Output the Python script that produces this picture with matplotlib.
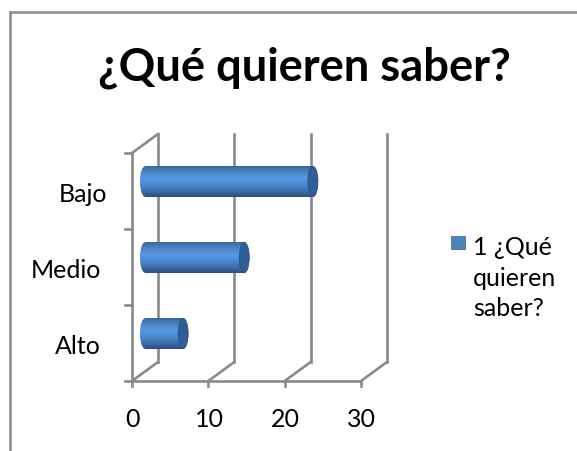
import numpy as np
import matplotlib.pyplot as plt
from matplotlib.patches import Ellipse, Rectangle

categories = ["Alto", "Medio", "Bajo"]
values = [5, 13, 22]
xticks = [0, 10, 20, 30]
legend_label = "1 ¿Qué\nquieren\nsaber?"
title = "¿Qué quieren saber?"

W, H = 577, 451
plt.rcParams["font.family"] = ["Lato", "DejaVu Sans"]

fig = plt.figure(figsize=(W / 100, H / 100), dpi=100)

# chart border, only top and left are inside the crop
border = "#8c8c8c"
fig.add_artist(plt.Line2D([9.5 / W, 9.5 / W], [0, 1 - 12 / H], color=border, lw=1.8, transform=fig.transFigure))
fig.add_artist(plt.Line2D([9.5 / W, 1], [1 - 12 / H, 1 - 12 / H], color=border, lw=1.8, transform=fig.transFigure))

# axes box runs from the front corner (132, 381) to the back corner (388, 133)
x0, x30, y0, y3 = 132, 361, 381, 153
xscale = (x30 - x0) / 30
yscale = (y0 - y3) / 3
depth_x = 26 / xscale
depth_y = 19 / yscale
xmax = 30 + depth_x
ymax = 3 + depth_y
ax = fig.add_axes([x0 / W, 1 - y0 / H, (x30 + 26 - x0) / W, (y0 - y3 + 19) / H])
ax.set_xlim(0, xmax)
ax.set_ylim(0, ymax)
ax.axis("off")

grid = "#8a8a8a"
lw = 1.9
# back wall and floor
for t in xticks:
    ax.plot([t + depth_x, t + depth_x], [depth_y, ymax], color=grid, lw=lw, clip_on=False, zorder=1)
    ax.plot([t, t + depth_x], [0, depth_y], color=grid, lw=lw, clip_on=False, zorder=1)
    ax.plot([t, t], [0, -0.07], color=grid, lw=lw, clip_on=False, zorder=1)
    ax.text(t + 0.1, -0.51, str(t), ha="center", va="center", fontsize=18, color="black")
ax.plot([0, 0], [0, 3], color=grid, lw=lw, clip_on=False, zorder=1)
ax.plot([0, 30], [0, 0], color=grid, lw=lw, clip_on=False, zorder=1)
ax.plot([0, depth_x], [3, ymax], color=grid, lw=lw, clip_on=False, zorder=1)
for i in range(4):
    ax.plot([-0.9, 0], [i, i], color=grid, lw=lw, clip_on=False, zorder=1)
label_x = [-4.1, -4.1, -3.2]
for i, c in enumerate(categories):
    ax.text(label_x[i], i + 0.46, c, ha="right", va="center", fontsize=18, color="black")

# cylinders
shade = np.array([[0.23, 0.40, 0.62], [0.30, 0.52, 0.78], [0.33, 0.60, 0.90],
                  [0.30, 0.54, 0.82], [0.25, 0.44, 0.68], [0.17, 0.31, 0.50]])
grad = np.stack([np.interp(np.linspace(0, 5, 64), np.arange(6), shade[:, k]) for k in range(3)], axis=1)[:, None, :]
half_h = 15.2 / yscale
cap_w = 10 / xscale
for i, v in enumerate(values):
    yc = i + 0.5 + depth_y / 2
    xs = depth_x / 2
    xe = xs + v
    start = Ellipse((xs, yc), cap_w, half_h * 2, facecolor="none", edgecolor="none")
    body = Rectangle((xs, yc - half_h), v, half_h * 2, facecolor="none", edgecolor="none")
    ax.add_patch(start)
    ax.add_patch(body)
    for clip in (start, body):
        im = ax.imshow(grad, extent=(xs - cap_w, xe, yc - half_h, yc + half_h), aspect="auto", zorder=3)
        im.set_clip_path(clip)
    ax.add_patch(Ellipse((xe, yc), cap_w, half_h * 2, facecolor="#2f5d94", edgecolor="#2a5288", lw=0.6, zorder=4))
ax.set_xlim(0, xmax)
ax.set_ylim(0, ymax)

# legend
fig.add_artist(Rectangle((451 / W, 1 - 250 / H), 15 / W, 14 / H, transform=fig.transFigure,
                         facecolor="#4f81bd", edgecolor="none"))
fig.text(473 / W, 1 - 278 / H, legend_label, fontsize=18, ha="left", va="center", linespacing=1.4, color="black")

fig.text(304 / W, 1 - 68 / H, title, fontsize=32.7, fontweight="bold", ha="center", va="center", color="black")

fig.savefig("out.png", dpi=100)
